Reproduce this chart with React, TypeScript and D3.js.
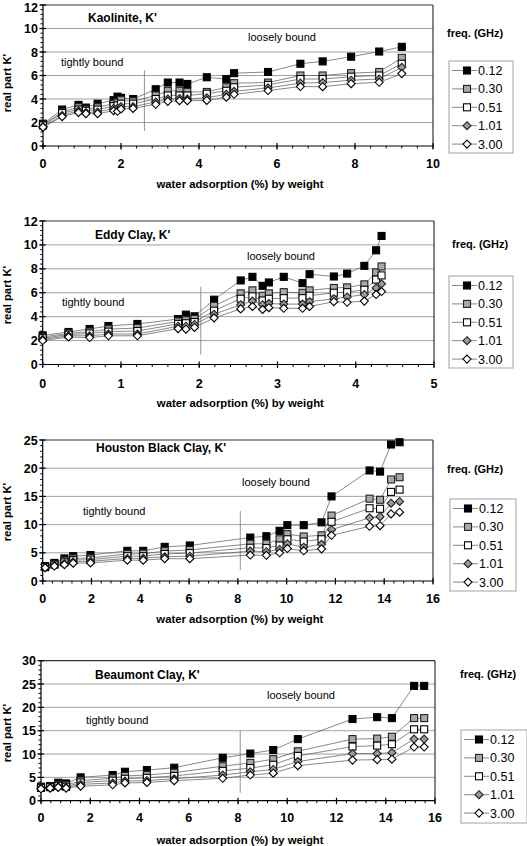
import React from 'react';
import * as d3 from 'd3';

const freqLabels = ['0.12', '0.30', '0.51', '1.01', '3.00'];

// Kaolinite
const kaolX = [0, 0.49, 0.91, 1.1, 1.4, 1.81, 1.91, 2.0, 2.31, 2.89, 3.2, 3.5, 3.7, 4.2, 4.7, 4.9, 5.77, 6.6, 7.17, 7.9, 8.62, 9.2];
const kaol012 = [1.9, 3.1, 3.5, 3.27, 3.6, 3.9, 4.2, 4.1, 4.0, 4.83, 5.4, 5.4, 5.28, 5.85, 5.7, 6.2, 6.3, 7.0, 7.2, 7.6, 8.04, 8.44];
const kaol030 = [1.8, 2.9, 3.3, 3.1, 3.3, 3.6, 3.7, 3.9, 3.8, 4.3, 4.7, 4.7, 4.6, 4.6, 5.0, 5.35, 5.4, 6.0, 6.0, 6.2, 6.3, 7.5];
const kaol051 = [1.75, 2.8, 3.1, 3.0, 3.1, 3.4, 3.45, 3.6, 3.6, 4.0, 4.3, 4.3, 4.3, 4.45, 4.7, 5.0, 5.2, 5.7, 5.7, 5.9, 6.0, 7.0];
const kaol101 = [1.65, 2.6, 3.0, 2.85, 2.9, 3.2, 3.2, 3.35, 3.35, 3.75, 4.0, 4.05, 4.0, 4.1, 4.4, 4.65, 4.95, 5.35, 5.4, 5.6, 5.7, 6.7];
const kaol300 = [1.6, 2.5, 2.85, 2.75, 2.75, 3.0, 2.95, 3.15, 3.2, 3.55, 3.8, 3.85, 3.85, 3.88, 4.15, 4.4, 4.72, 5.06, 5.05, 5.3, 5.42, 6.16];

// Eddy Clay
const eddyX = [0, 0.33, 0.6, 0.84, 1.21, 1.73, 1.83, 1.94, 2.19, 2.53, 2.68, 2.81, 2.89, 3.08, 3.32, 3.41, 3.72, 3.89, 4.11, 4.26, 4.33];
const eddy012 = [2.44, 2.72, 2.97, 3.22, 3.39, 3.8, 4.17, 4.03, 5.42, 7.03, 7.33, 6.58, 6.86, 7.33, 6.8, 7.55, 7.36, 7.6, 8.25, 9.55, 10.75];
const eddy030 = [2.3, 2.6, 2.75, 2.95, 3.05, 3.6, 3.7, 3.8, 4.9, 5.95, 6.2, 5.75, 5.95, 6.05, 6.0, 6.2, 6.4, 6.45, 6.7, 7.7, 8.2];
const eddy051 = [2.2, 2.5, 2.6, 2.75, 2.8, 3.4, 3.45, 3.55, 4.5, 5.5, 5.7, 5.35, 5.5, 5.55, 5.55, 5.75, 6.0, 6.05, 6.25, 7.1, 7.45];
const eddy101 = [2.1, 2.4, 2.4, 2.55, 2.55, 3.2, 3.2, 3.35, 4.2, 5.0, 5.3, 5.0, 5.1, 5.05, 5.05, 5.25, 5.5, 5.65, 5.85, 6.4, 6.75];
const eddy300 = [2.0, 2.3, 2.25, 2.4, 2.4, 3.0, 2.95, 3.1, 3.9, 4.65, 4.85, 4.6, 4.75, 4.7, 4.7, 4.85, 5.25, 5.2, 5.3, 5.85, 6.1];

// Houston Black Clay
const houX = [0.1, 0.48, 0.89, 1.25, 1.96, 3.47, 4.12, 5.0, 6.03, 8.51, 9.17, 9.71, 10.03, 10.7, 11.43, 11.84, 13.4, 13.83, 14.28, 14.63];
const hou012 = [2.65, 3.2, 4.0, 4.4, 4.6, 5.35, 5.35, 6.05, 6.3, 7.7, 7.94, 8.9, 9.9, 9.9, 10.4, 15.0, 19.6, 19.4, 24.2, 24.6];
const hou030 = [2.5, 3.0, 3.6, 4.0, 4.1, 4.8, 4.85, 5.3, 5.5, 6.6, 6.6, 7.4, 8.3, 7.9, 8.1, 11.6, 14.6, 14.4, 18.0, 18.4];
const hou051 = [2.45, 2.9, 3.3, 3.7, 3.8, 4.4, 4.4, 4.8, 4.95, 5.9, 5.85, 6.3, 7.4, 7.0, 7.4, 10.5, 12.9, 12.8, 15.8, 16.2];
const hou101 = [2.4, 2.8, 3.1, 3.4, 3.5, 4.0, 4.05, 4.3, 4.4, 5.3, 5.2, 5.6, 6.6, 6.0, 6.5, 9.1, 11.2, 11.4, 13.8, 14.1];
const hou300 = [2.35, 2.65, 2.9, 3.15, 3.2, 3.7, 3.7, 3.95, 3.95, 4.6, 4.55, 5.0, 5.75, 5.35, 5.7, 8.1, 9.7, 9.8, 11.9, 12.2];

// Beaumont Clay
const beauX = [0, 0.37, 0.7, 1.02, 1.61, 2.91, 3.41, 4.3, 5.41, 7.38, 8.5, 9.43, 10.43, 12.65, 13.65, 14.25, 15.15, 15.56];
const beau012 = [3.0, 3.14, 3.86, 3.7, 5.0, 5.5, 6.2, 6.57, 7.07, 9.2, 10.1, 10.86, 13.2, 17.5, 17.9, 17.7, 24.6, 24.6];
const beau030 = [2.85, 3.0, 3.4, 3.3, 4.3, 4.8, 5.3, 5.5, 6.0, 7.4, 8.1, 8.9, 10.6, 13.2, 13.3, 13.7, 17.7, 17.7];
const beau051 = [2.75, 2.9, 3.2, 3.0, 3.9, 4.3, 4.7, 4.9, 5.3, 6.4, 7.0, 7.7, 9.6, 11.6, 11.8, 12.1, 15.3, 15.3];
const beau101 = [2.65, 2.8, 3.0, 2.85, 3.5, 3.8, 4.2, 4.3, 4.7, 5.5, 6.2, 6.7, 8.4, 10.1, 10.1, 10.3, 13.2, 13.2];
const beau300 = [2.55, 2.7, 2.85, 2.7, 3.1, 3.4, 3.8, 3.9, 4.3, 4.8, 5.5, 5.9, 7.5, 8.7, 8.8, 8.9, 11.5, 11.5];

type Cfg = {
  title: string;
  xs: number[];
  series: number[][];
  xMax: number; xStep: number; yMax: number; yStep: number;
  x0: number; x1: number; yTop: number; yBot: number;
  titlePos: [number, number];
  loosePos: [number, number];
  tightPos: [number, number];
  divider: [number, number, number];
  freqPos: [number, number];
  box: [number, number, number, number];
  yTitleY: number;
  xTickY: number;
  xTitleY: number;
};

const panels: Cfg[] = [
  {
    title: "Kaolinite, K'", xs: kaolX, series: [kaol012, kaol030, kaol051, kaol101, kaol300],
    xMax: 10, xStep: 2, yMax: 12, yStep: 2,
    x0: 43, x1: 433, yTop: 5, yBot: 146,
    titlePos: [88, 18], loosePos: [248, 37], tightPos: [61, 62], divider: [2.6, 1.28, 6.45],
    freqPos: [447, 33], box: [449, 61, 64, 92], yTitleY: 83, xTickY: 163, xTitleY: 184,
  },
  {
    title: "Eddy Clay, K'", xs: eddyX, series: [eddy012, eddy030, eddy051, eddy101, eddy300],
    xMax: 5, xStep: 1, yMax: 12, yStep: 2,
    x0: 42.7, x1: 434, yTop: 221, yBot: 364.5,
    titlePos: [95, 235], loosePos: [247, 256], tightPos: [62, 302], divider: [2.02, 0.83, 6.5],
    freqPos: [452, 244], box: [449, 276, 64, 92], yTitleY: 295, xTickY: 383, xTitleY: 403,
  },
  {
    title: "Houston Black Clay, K'", xs: houX, series: [hou012, hou030, hou051, hou101, hou300],
    xMax: 16, xStep: 2, yMax: 25, yStep: 5,
    x0: 42.7, x1: 433, yTop: 440, yBot: 581,
    titlePos: [96, 448], loosePos: [242, 482], tightPos: [83, 511], divider: [8.1, 1.94, 12.4],
    freqPos: [447, 469], box: [450, 499, 66, 92], yTitleY: 512, xTickY: 598, xTitleY: 619,
  },
  {
    title: "Beaumont Clay, K'", xs: beauX, series: [beau012, beau030, beau051, beau101, beau300],
    xMax: 16, xStep: 2, yMax: 30, yStep: 5,
    x0: 41, x1: 435, yTop: 660.7, yBot: 800.7,
    titlePos: [95, 675], loosePos: [267, 695], tightPos: [86, 720], divider: [8.09, 1.7, 15.0],
    freqPos: [460, 674], box: [461, 730, 66, 93], yTitleY: 733, xTickY: 817, xTitleY: 840,
  },
];

const FONT = "'Liberation Sans', Arial, Helvetica, sans-serif";

const markerStyles = [
  { shape: 'square', fill: '#000', stroke: '#000' },
  { shape: 'square', fill: '#a9a9a9', stroke: '#222' },
  { shape: 'square', fill: '#fff', stroke: '#000' },
  { shape: 'diamond', fill: '#9a9a9a', stroke: '#222' },
  { shape: 'diamond', fill: '#fff', stroke: '#000' },
];

function Marker({ i, x, y }: { i: number; x: number; y: number }) {
  const s = markerStyles[i];
  if (s.shape === 'square') {
    const h = 3.5;
    return <rect x={x - h} y={y - h} width={2 * h} height={2 * h} fill={s.fill} stroke={s.stroke} strokeWidth={1.1} />;
  }
  const h = 4;
  return (
    <path d={`M${x},${y - h}L${x + h},${y}L${x},${y + h}L${x - h},${y}Z`} fill={s.fill} stroke={s.stroke} strokeWidth={1.1} />
  );
}

function Panel({ c }: { c: Cfg }) {
  const xs = d3.scaleLinear().domain([0, c.xMax]).range([c.x0, c.x1]);
  const ys = d3.scaleLinear().domain([0, c.yMax]).range([c.yBot, c.yTop]);
  const xTicks = d3.range(0, c.xMax + 1e-9, c.xStep);
  const yTicks = d3.range(0, c.yMax + 1e-9, c.yStep);
  const xMinor = d3.range(0, c.xMax + 1e-9, c.xStep / 5);
  const yMinor = d3.range(0, c.yMax + 1e-9, c.yStep / 5);
  const line = d3.line<number>().x((_, k) => xs(c.xs[k])).y((v) => ys(v));
  const [bx, by, bw, bh] = c.box;
  return (
    <g>
      {yTicks.filter((t) => t > 0 && t < c.yMax).map((t) => (
        <line key={'g' + t} x1={c.x0} x2={c.x1} y1={ys(t)} y2={ys(t)} stroke="#8a8a8a" strokeWidth={0.8} />
      ))}
      <line x1={c.x0} x2={c.x1} y1={c.yTop} y2={c.yTop} stroke="#333" strokeWidth={1.2} />
      <line x1={c.x1} x2={c.x1} y1={c.yTop} y2={c.yBot} stroke="#333" strokeWidth={1.2} />
      <line x1={c.x0} x2={c.x1} y1={c.yBot} y2={c.yBot} stroke="#000" strokeWidth={1.2} />
      <line x1={c.x0} x2={c.x0} y1={c.yTop} y2={c.yBot} stroke="#000" strokeWidth={1.2} />
      {xMinor.map((t, k) => (
        <line key={'xm' + k} x1={xs(t)} x2={xs(t)} y1={c.yBot} y2={c.yBot + 2.5} stroke="#000" strokeWidth={1} />
      ))}
      {xTicks.map((t) => (
        <line key={'xt' + t} x1={xs(t)} x2={xs(t)} y1={c.yBot - 3} y2={c.yBot + 3.5} stroke="#000" strokeWidth={1.2} />
      ))}
      {yMinor.map((t, k) => (
        <line key={'ym' + k} x1={c.x0 - 2.5} x2={c.x0} y1={ys(t)} y2={ys(t)} stroke="#000" strokeWidth={1} />
      ))}
      {yTicks.map((t) => (
        <line key={'yt' + t} x1={c.x0 - 3.5} x2={c.x0 + 3} y1={ys(t)} y2={ys(t)} stroke="#000" strokeWidth={1.2} />
      ))}
      {xTicks.map((t) => (
        <text key={'xl' + t} x={xs(t)} y={c.xTickY} dy="0.36em" textAnchor="middle" fontFamily={FONT} fontWeight="bold" fontSize={12.5}>
          {t}
        </text>
      ))}
      {yTicks.map((t) => (
        <text key={'yl' + t} x={c.x0 - 5} y={Math.max(ys(t), 7)} dy="0.36em" textAnchor="end" fontFamily={FONT} fontWeight="bold" fontSize={12.5}>
          {t}
        </text>
      ))}
      <text x={(c.x0 + c.x1) / 2 + 2} y={c.xTitleY} dy="0.36em" textAnchor="middle" fontFamily={FONT} fontWeight="bold" fontSize={11.3}>
        water adsorption (%) by weight
      </text>
      <text transform={`translate(7,${c.yTitleY}) rotate(-90)`} dy="0.36em" textAnchor="middle" fontFamily={FONT} fontWeight="bold" fontSize={11.3}>
        real part K'
      </text>
      <text x={c.titlePos[0]} y={c.titlePos[1]} dy="0.36em" fontFamily={FONT} fontWeight="bold" fontSize={12}>
        {c.title}
      </text>
      <text x={c.loosePos[0]} y={c.loosePos[1]} dy="0.36em" fontFamily={FONT} fontSize={11}>
        loosely bound
      </text>
      <text x={c.tightPos[0]} y={c.tightPos[1]} dy="0.36em" fontFamily={FONT} fontSize={11}>
        tightly bound
      </text>
      <line x1={xs(c.divider[0])} x2={xs(c.divider[0])} y1={ys(c.divider[1])} y2={ys(c.divider[2])} stroke="#777" strokeWidth={0.8} />
      {c.series.map((vals, i) => (
        <g key={'s' + i}>
          <path d={line(vals) || ''} fill="none" stroke="#555" strokeWidth={0.7} />
          {vals.map((v, k) => (
            <Marker key={k} i={i} x={xs(c.xs[k])} y={ys(v)} />
          ))}
        </g>
      ))}
      <text x={c.freqPos[0]} y={c.freqPos[1]} dy="0.36em" fontFamily={FONT} fontWeight="bold" fontSize={11}>
        freq. (GHz)
      </text>
      <rect x={bx} y={by} width={bw} height={bh} fill="#fff" stroke="#999" strokeWidth={0.9} />
      {freqLabels.map((lab, i) => {
        const ly = by + 9.5 + i * 18.4;
        return (
          <g key={'l' + i}>
            <line x1={bx + 3} x2={bx + 28} y1={ly} y2={ly} stroke="#555" strokeWidth={0.7} />
            <Marker i={i} x={bx + 18} y={ly} />
            <text x={bx + 29} y={ly} dy="0.36em" fontFamily={FONT} fontSize={12.5}>
              {lab}
            </text>
          </g>
        );
      })}
    </g>
  );
}

export default function App() {
  return (
    <svg width={527} height={846} style={{ position: 'absolute', left: 0, top: 0, background: '#fff' }}>
      <rect x={0} y={0} width={527} height={846} fill="#fff" />
      {panels.map((c, i) => (
        <Panel key={i} c={c} />
      ))}
    </svg>
  );
}
